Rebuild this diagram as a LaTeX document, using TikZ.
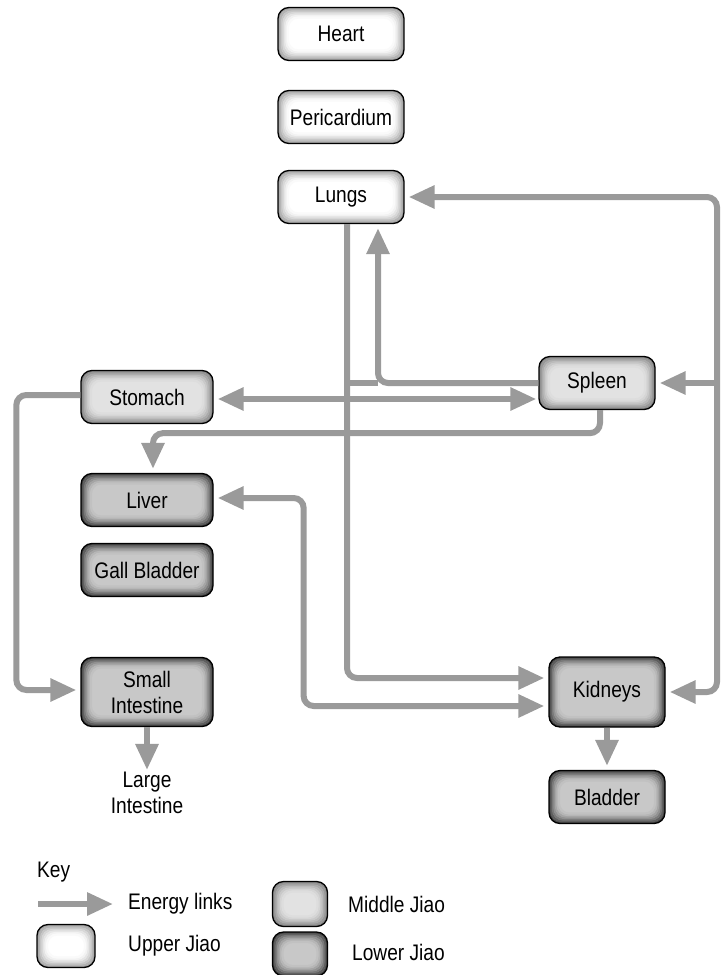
\documentclass[tikz,border=0pt]{standalone}
\usepackage{fontspec}
\setmainfont{Liberation Sans}[FakeStretch=0.85]
\usetikzlibrary{arrows.meta}
\definecolor{upin}{HTML}{FFFFFF}\definecolor{upout}{HTML}{A0A0A0}
\definecolor{midin}{HTML}{E2E2E2}\definecolor{midout}{HTML}{858585}
\definecolor{lowin}{HTML}{C8C8C8}\definecolor{lowout}{HTML}{444444}
\definecolor{linkc}{HTML}{9A9A9A}
\tikzset{
  organ/.style 2 args={draw=black, line width=1.3pt, rounded corners=11pt, inner sep=0pt, align=center, fill=#2,
    path picture={\foreach \i/\p in {1/100,2.5/80,4/60,5.5/42,7/27,8.5/14,10/5}{\draw[line width=2.2pt, draw=#1!\p!#2, rounded corners=10pt] ([shift={(\i pt,-\i pt)}]path picture bounding box.north west) rectangle ([shift={(-\i pt,\i pt)}]path picture bounding box.south east);}}},
  upper/.style={organ={upout}{upin}},
  middle/.style={organ={midout}{midin}},
  lower/.style={organ={lowout}{lowin}},
  topcol/.style={minimum width=126pt, minimum height=53pt},
  leftcol/.style={minimum width=132pt, minimum height=53pt},
  rightcol/.style={minimum width=116pt, minimum height=53pt},
  link/.style={draw=linkc, line width=6pt, rounded corners=10pt, shorten >=4pt, shorten <=4pt},
  >={Triangle[length=26pt,width=22pt]},
  lbl/.style={inner sep=0pt, align=center},
}
\begin{document}
\begin{tikzpicture}[x=1pt,y=-1pt, font=\fontsize{22.5}{26}\selectfont]
\useasboundingbox (0,0) rectangle (725,975);
% organs
\node[upper, topcol] (heart) at (341,34) {Heart};
\node[upper, topcol] (peri) at (341,117) {Pericardium};
\node[upper, topcol] (lungs) at (341,197) {Lungs};
\node[middle, leftcol] (stomach) at (147,397) {Stomach};
\node[lower, leftcol] (liver) at (147,500) {Liver};
\node[lower, leftcol] (gall) at (147,570) {Gall Bladder};
\node[lower, leftcol, minimum height=69pt] (si) at (147,692) {Small\\Intestine};
\node[lbl] (li) at (147,793) {Large\\Intestine};
\node[middle, rightcol] (spleen) at (597,383) {Spleen};
\node[lower, rightcol, minimum height=70pt] (kidneys) at (607,692) {Kidneys};
\node[lower, rightcol] (bladder) at (607,797) {Bladder};
% routing points
\coordinate (jl) at ([xshift=6pt]lungs.south);
\coordinate (jr) at ([xshift=37pt]lungs.south);
\coordinate (rr) at (717,0);
\coordinate (sy) at (0,399);
% connectors
\draw[link,->,shorten <=0pt] (spleen.west) -| (jr);
\draw[link,shorten <=0pt,shorten >=0pt] (jl |- spleen.west) -- (jr |- spleen.west);
\draw[link,<->,shorten >=2pt] (stomach.east |- sy) -- (spleen.west |- sy);
\draw[link,->,shorten <=0pt] ([xshift=3pt]spleen.south) -- ++(0,23) -| ([xshift=6pt]liver.north);
\draw[link,->,shorten <=0pt] ([yshift=2pt]stomach.west) -- ++(-64,0) |- ([yshift=2pt]si.west);
\draw[link,->,shorten <=0pt,shorten >=2pt] (si.south) -- (li.north);
\draw[link,<->] ([yshift=2pt]liver.east) -- ++(90,0) |- ([yshift=-14pt]kidneys.west);
\draw[link,->,shorten <=0pt] (jl) |- ([yshift=14pt]kidneys.west);
\draw[link,<->] (lungs.east) -- (rr |- lungs.east) -- (rr |- kidneys.east) -- (kidneys.east);
\draw[link,->,shorten <=0pt] (rr |- spleen.east) -- (spleen.east);
\draw[link,->,shorten <=0pt] (kidneys.south) -- (bladder.north);
% key
\node[lbl, anchor=west] (key) at (37,872) {Key};
\coordinate (ka) at (38,904);
\coordinate (kb) at (117,904);
\draw[link,->,shorten <=0pt] (ka) -- (kb);
\node[lbl, anchor=west] (kel) at (128,904) {Energy links};
\node[upper, minimum width=58pt, minimum height=43pt] (ku) at (66,946) {};
\node[lbl, anchor=west] (kul) at (128,946) {Upper Jiao};
\node[middle, minimum width=55pt, minimum height=45pt] (km) at (300,904) {};
\node[lbl, anchor=west] (kml) at (348,904) {Middle Jiao};
\node[lower, minimum width=55pt, minimum height=44pt] (kl) at (300,954) {};
\node[lbl, anchor=west] (kll) at (352,952) {Lower Jiao};
\end{tikzpicture}
\end{document}
